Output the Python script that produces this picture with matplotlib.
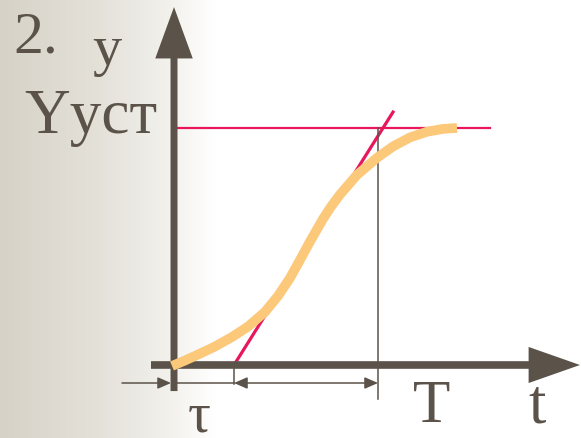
import numpy as np
import matplotlib.pyplot as plt

# transient response y(t), normalised so that y_ust = 1
curve_t = [-0.1, 0.55, 1.2, 2.05, 2.9, 3.7, 4.55, 5.2, 5.8, 6.3, 6.8, 7.45,
           7.85, 8.3, 9.15, 10.15, 10.95, 11.8, 12.65, 13.45, 14.15]
curve_y = [-0.004, 0.019, 0.044, 0.078, 0.118, 0.162, 0.224, 0.291, 0.367,
           0.443, 0.521, 0.616, 0.668, 0.719, 0.802, 0.874, 0.922, 0.960,
           0.984, 0.996, 1.0]

y_ust = 1.0
tau = 3.0          # delay (tangent crosses t axis)
T_end = 10.2       # tau + T
tangent_t = [tau, 10.95]
tangent_y = [0.0, 1.067]
ust_line_end = 15.8

axis_col = '#5b534a'
red = '#e8175d'
orange = '#fcc87a'

plt.rcParams['font.family'] = ['Liberation Serif', 'DejaVu Serif']

fig = plt.figure(figsize=(5.81, 4.39), dpi=100)
ax = fig.add_axes([0, 0, 1, 1])
ax.set_axis_off()
xlim = (-8.7, 20.35)
ylim = (-0.308, 1.544)

# beige gradient on the left side of the slide
stops = np.array([[0.0, 214, 210, 200],
                  [0.17, 228, 225, 217],
                  [0.29, 242, 241, 236],
                  [0.37, 255, 255, 255],
                  [1.0, 255, 255, 255]])
xs = np.linspace(0, 1, 581)
grad = np.stack([np.interp(xs, stops[:, 0], stops[:, i]) for i in (1, 2, 3)], axis=-1) / 255
ax.imshow(grad[np.newaxis, :, :], extent=[xlim[0], xlim[1], ylim[0], ylim[1]],
          aspect='auto', zorder=0)
ax.set_xlim(xlim)
ax.set_ylim(ylim)

# axes with arrows
ax.annotate('', xy=(0, 1.51), xytext=(0, -0.11),
            arrowprops=dict(arrowstyle='simple,head_length=37,head_width=27,tail_width=5',
                            mutation_scale=1, lw=0, fc=axis_col, shrinkA=0, shrinkB=0),
            zorder=3)
ax.annotate('', xy=(20.3, 0), xytext=(-1.15, 0),
            arrowprops=dict(arrowstyle='simple,head_length=37,head_width=26,tail_width=5.5',
                            mutation_scale=1, lw=0, fc=axis_col, shrinkA=0, shrinkB=0),
            zorder=3)

# y_ust level, tangent and T marker
ax.plot([0, ust_line_end], [y_ust, y_ust], color=red, lw=1.6, zorder=2)
ax.plot(tangent_t, tangent_y, color=red, lw=2.3, zorder=2)
ax.plot([T_end, T_end], [-0.143, y_ust], color=axis_col, lw=1.1, zorder=2)
ax.plot([tau, tau], [0, -0.08], color=axis_col, lw=1.1, zorder=2)

# response curve
ax.plot(curve_t, curve_y, color=orange, lw=7, solid_capstyle='butt',
        solid_joinstyle='round', zorder=4)

# dimension arrows below the t axis
y_dim = -0.076
ax.plot([0, tau], [y_dim, y_dim], color=axis_col, lw=1.1, zorder=2)
ax.annotate('', xy=(-0.15, y_dim), xytext=(-2.6, y_dim),
            arrowprops=dict(arrowstyle='-|>,head_length=8,head_width=3.5',
                            mutation_scale=1, lw=1.1, color=axis_col,
                            shrinkA=0, shrinkB=0), zorder=2)
ax.annotate('', xy=(T_end, y_dim), xytext=(tau, y_dim),
            arrowprops=dict(arrowstyle='<|-|>,head_length=8,head_width=3.5',
                            mutation_scale=1, lw=1.1, color=axis_col,
                            shrinkA=0, shrinkB=0), zorder=2)

# labels
ax.text(-8.05, 1.321, '2.', fontsize=43, color=axis_col, va='baseline')
ax.text(-4.1, 1.27, 'y', fontsize=42, color=axis_col, va='baseline')
ax.text(-7.5, 0.983, 'Yуст', fontsize=45.5, color=axis_col, va='baseline')
ax.text(0.7, -0.278, 'τ', fontsize=41, color=axis_col, va='baseline')
ax.text(11.95, -0.236, 'T', fontsize=44, color=axis_col, va='baseline')
ax.text(17.7, -0.24, 't', fontsize=45, color=axis_col, va='baseline')

fig.savefig('out.png', dpi=100)
